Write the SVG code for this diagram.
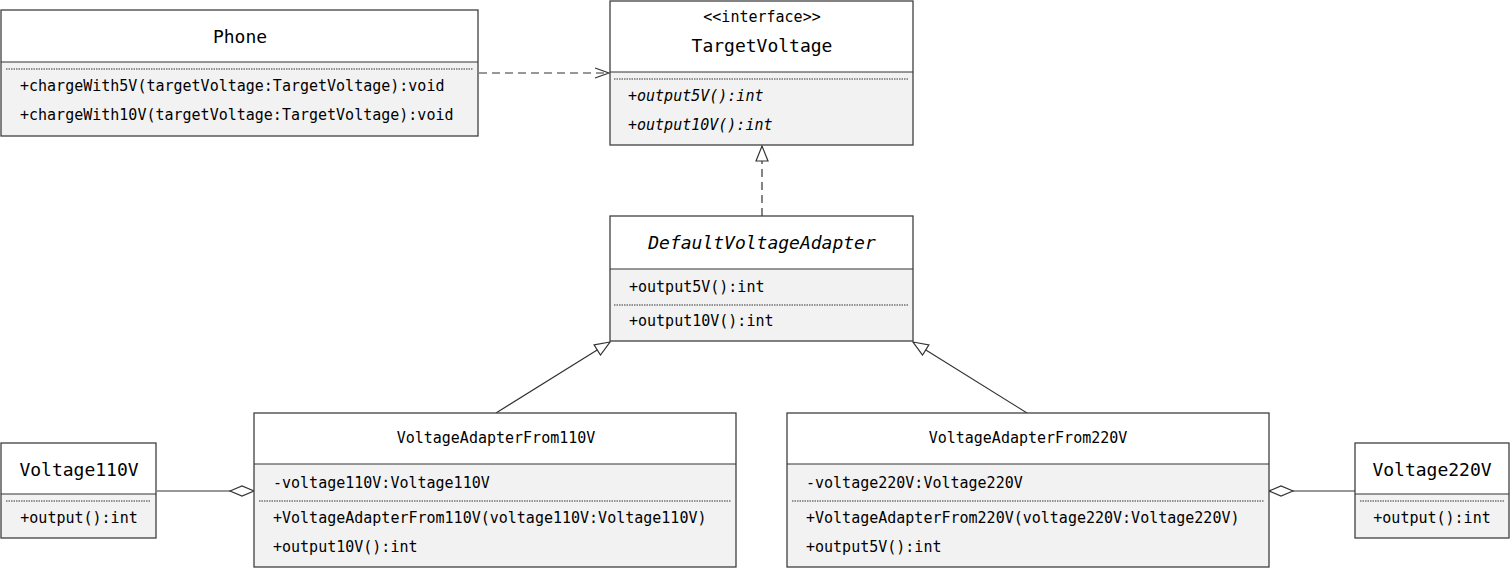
<svg xmlns="http://www.w3.org/2000/svg" width="1511" height="569" viewBox="0 0 1511 569">
<defs>
<style>
.hd{fill:#ffffff;stroke:none}
.bd{fill:#f2f2f2;stroke:none}
.fr{fill:none;stroke:#404040;stroke-width:1.3}
.sep{stroke:#333;stroke-width:1.2}
.dot{stroke:#333;stroke-width:1;stroke-dasharray:1.5,1}
text{font-family:"DejaVu Sans Mono","Liberation Mono",monospace;fill:#000;dominant-baseline:central}
.t{font-size:18px;text-anchor:middle}
.m{font-size:15px}
.c{text-anchor:middle}
.i{font-style:italic}
.ln{fill:none;stroke:#333;stroke-width:1.2}
.dsh{stroke-dasharray:8,5}
</style>
<marker id="open" markerWidth="16" markerHeight="12" refX="15" refY="6" orient="auto" markerUnits="userSpaceOnUse">
<path d="M1,1 L15,6 L1,11" fill="none" stroke="#333" stroke-width="1.2"/>
</marker>
<marker id="tri" markerWidth="18" markerHeight="14" refX="16" refY="7" orient="auto" markerUnits="userSpaceOnUse">
<path d="M1,1 L16,7 L1,13 Z" fill="#fff" stroke="#333" stroke-width="1.2"/>
</marker>
<marker id="dia" markerWidth="28" markerHeight="12" refX="26" refY="6" orient="auto" markerUnits="userSpaceOnUse">
<path d="M2,6 L14,1 L26,6 L14,11 Z" fill="#fff" stroke="#333" stroke-width="1.2"/>
</marker>
</defs>

<g id="connectors">
<line class="ln dsh" x1="479" y1="73" x2="609" y2="73" marker-end="url(#open)"/>
<line class="ln dsh" x1="762" y1="216" x2="762" y2="146" marker-end="url(#tri)"/>
<line class="ln" x1="496" y1="413" x2="610" y2="342" marker-end="url(#tri)"/>
<line class="ln" x1="1027" y1="413" x2="913" y2="342" marker-end="url(#tri)"/>
<line class="ln" x1="157" y1="491" x2="254" y2="491" marker-end="url(#dia)"/>
<line class="ln" x1="1355" y1="491" x2="1269" y2="491" marker-end="url(#dia)"/>
</g>

<g id="Phone">
<rect class="hd" x="1" y="10" width="477" height="52"/>
<rect class="bd" x="1" y="62" width="477" height="74"/>
<rect class="fr" x="1" y="10" width="477" height="126"/>
<line class="sep" x1="1" y1="62" x2="478" y2="62"/>
<line class="dot" x1="6" y1="69" x2="473" y2="69"/>
<text class="t" x="240" y="36">Phone</text>
<text class="m" x="20" y="86">+chargeWith5V(targetVoltage:TargetVoltage):void</text>
<text class="m" x="20" y="115">+chargeWith10V(targetVoltage:TargetVoltage):void</text>
</g>

<g id="TargetVoltage">
<rect class="hd" x="610" y="1" width="303" height="71"/>
<rect class="bd" x="610" y="72" width="303" height="73"/>
<rect class="fr" x="610" y="1" width="303" height="144"/>
<line class="sep" x1="610" y1="72" x2="913" y2="72"/>
<line class="dot" x1="614" y1="79" x2="909" y2="79"/>
<text class="m c" x="762" y="17">&lt;&lt;interface&gt;&gt;</text>
<text class="t" x="762" y="45">TargetVoltage</text>
<text class="m i" x="628" y="96">+output5V():int</text>
<text class="m i" x="628" y="125">+output10V():int</text>
</g>

<g id="DefaultVoltageAdapter">
<rect class="hd" x="610" y="216" width="303" height="53"/>
<rect class="bd" x="610" y="269" width="303" height="72"/>
<rect class="fr" x="610" y="216" width="303" height="125"/>
<line class="sep" x1="610" y1="269" x2="913" y2="269"/>
<line class="dot" x1="614" y1="305" x2="909" y2="305"/>
<text class="t i" x="762" y="242">DefaultVoltageAdapter</text>
<text class="m" x="629" y="287">+output5V():int</text>
<text class="m" x="629" y="321">+output10V():int</text>
</g>

<g id="VoltageAdapterFrom110V">
<rect class="hd" x="254" y="413" width="482" height="51"/>
<rect class="bd" x="254" y="464" width="482" height="103"/>
<rect class="fr" x="254" y="413" width="482" height="154"/>
<line class="sep" x1="254" y1="464" x2="736" y2="464"/>
<line class="dot" x1="259" y1="501" x2="731" y2="501"/>
<text class="m c" x="496" y="438">VoltageAdapterFrom110V</text>
<text class="m" x="273" y="483">-voltage110V:Voltage110V</text>
<text class="m" x="273" y="518">+VoltageAdapterFrom110V(voltage110V:Voltage110V)</text>
<text class="m" x="273" y="547">+output10V():int</text>
</g>

<g id="VoltageAdapterFrom220V">
<rect class="hd" x="787" y="413" width="482" height="51"/>
<rect class="bd" x="787" y="464" width="482" height="103"/>
<rect class="fr" x="787" y="413" width="482" height="154"/>
<line class="sep" x1="787" y1="464" x2="1269" y2="464"/>
<line class="dot" x1="792" y1="501" x2="1264" y2="501"/>
<text class="m c" x="1028" y="438">VoltageAdapterFrom220V</text>
<text class="m" x="806" y="483">-voltage220V:Voltage220V</text>
<text class="m" x="806" y="518">+VoltageAdapterFrom220V(voltage220V:Voltage220V)</text>
<text class="m" x="806" y="547">+output5V():int</text>
</g>

<g id="Voltage110V">
<rect class="hd" x="1" y="443" width="155" height="51"/>
<rect class="bd" x="1" y="494" width="155" height="44"/>
<rect class="fr" x="1" y="443" width="155" height="95"/>
<line class="sep" x1="1" y1="494" x2="156" y2="494"/>
<line class="dot" x1="6" y1="501" x2="151" y2="501"/>
<text class="t" x="79" y="469">Voltage110V</text>
<text class="m c" x="79" y="518">+output():int</text>
</g>

<g id="Voltage220V">
<rect class="hd" x="1355" y="443" width="154" height="51"/>
<rect class="bd" x="1355" y="494" width="154" height="44"/>
<rect class="fr" x="1355" y="443" width="154" height="95"/>
<line class="sep" x1="1355" y1="494" x2="1509" y2="494"/>
<line class="dot" x1="1360" y1="501" x2="1504" y2="501"/>
<text class="t" x="1432" y="469">Voltage220V</text>
<text class="m c" x="1432" y="518">+output():int</text>
</g>
</svg>
